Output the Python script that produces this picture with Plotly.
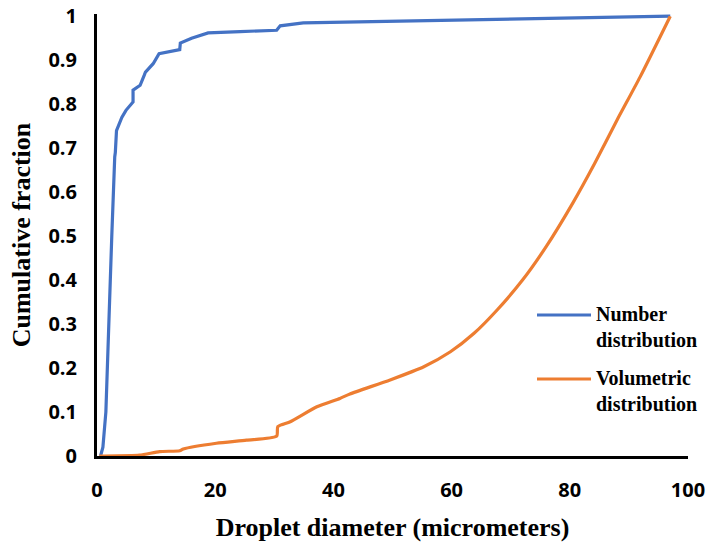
import plotly.graph_objects as go

# Cumulative number distribution of droplet sizes
number_diam = [0.6, 1.0, 1.5, 2.2, 2.5, 3.0, 3.1, 3.3, 4.2, 4.9, 6.1, 6.1, 7.3, 8.0, 8.2,
               9.5, 10.5, 14.0, 14.1, 16.0, 18.8, 24.2, 30.4, 31.0, 34.9, 97.0]
number_frac = [0.0, 0.02, 0.1, 0.4, 0.5, 0.68, 0.69, 0.74, 0.77, 0.786, 0.805, 0.832, 0.843,
               0.866, 0.873, 0.892, 0.915, 0.924, 0.939, 0.950, 0.962, 0.965, 0.968, 0.978,
               0.985, 1.0]

# Cumulative volumetric distribution of droplet sizes
volume_diam = [0.4, 1.0, 7.2, 10.6, 14.0, 14.6, 20.2, 25.3, 30.4, 30.6, 32.7, 37.2, 41.1,
               42.8, 49.6, 55.3, 59.8, 63.8, 67.7, 72.0, 76.0, 80.5, 84.2, 88.0, 91.9, 97.0]
volume_frac = [0.0, 0.0, 0.002, 0.01, 0.012, 0.016, 0.029, 0.036, 0.045, 0.067, 0.078, 0.112,
               0.131, 0.141, 0.173, 0.203, 0.237, 0.279, 0.332, 0.40, 0.476, 0.575, 0.665,
               0.764, 0.862, 1.0]

series_names = ["Number<br>distribution", "Volumetric<br>distribution"]
series_colors = ["#4472C4", "#ED7D31"]

x_ticks = [0, 20, 40, 60, 80, 100]
y_ticks = [0, 0.1, 0.2, 0.3, 0.4, 0.5, 0.6, 0.7, 0.8, 0.9, 1]
y_tick_text = ["0", "0.1", "0.2", "0.3", "0.4", "0.5", "0.6", "0.7", "0.8", "0.9", "1"]

W, H = 714, 542
L, R, T, B = 97, 26, 14, 86
plot_w = W - L - R
plot_h = H - T - B

fig = go.Figure()
fig.add_trace(go.Scatter(x=number_diam, y=number_frac, mode="lines",
                         line=dict(color=series_colors[0], width=3.2),
                         name=series_names[0], showlegend=False))
fig.add_trace(go.Scatter(x=volume_diam, y=volume_frac, mode="lines",
                         line=dict(color=series_colors[1], width=3.2, shape="spline",
                                   smoothing=0.6),
                         name=series_names[1], showlegend=False))

tick_font = dict(family="Open Sans", size=20, color="black", weight="bold")
title_font = dict(family="Liberation Serif", size=26, color="black", weight="bold")


def px_x(px):
    return (px - L) / plot_w


def px_y(py):
    return (H - B - py) / plot_h


# Legend keys drawn beside the curves
legend_rows = [(315, 327.5), (379, 391)]
for (line_y, text_y), name, color in zip(legend_rows, series_names, series_colors):
    fig.add_shape(type="line", xref="paper", yref="paper",
                  x0=px_x(537), x1=px_x(591), y0=px_y(line_y), y1=px_y(line_y),
                  line=dict(color=color, width=3.2))
    fig.add_annotation(xref="paper", yref="paper", x=px_x(594), y=px_y(text_y),
                       xanchor="left", yanchor="middle", align="left", showarrow=False,
                       text=name,
                       font=dict(family="Liberation Serif", size=20, color="black",
                                 weight="bold"))

fig.update_layout(
    width=W, height=H,
    margin=dict(l=L, r=R, t=T, b=B, autoexpand=False),
    paper_bgcolor="white", plot_bgcolor="white",
    xaxis=dict(range=[0, 100], tickvals=x_ticks, showgrid=False, zeroline=False,
               showline=True, linecolor="black", linewidth=3, ticks="",
               ticklabelstandoff=14, tickfont=tick_font,
               title=dict(text="Droplet diameter (micrometers)", font=title_font,
                          standoff=22)),
    yaxis=dict(range=[0, 1.005], tickvals=y_ticks, ticktext=y_tick_text, showgrid=False,
               zeroline=False, showline=True, linecolor="black", linewidth=3, ticks="",
               ticklabelstandoff=13, tickfont=tick_font,
               title=dict(text="Cumulative fraction", font=title_font, standoff=11)),
)

fig.write_html("out.html")
